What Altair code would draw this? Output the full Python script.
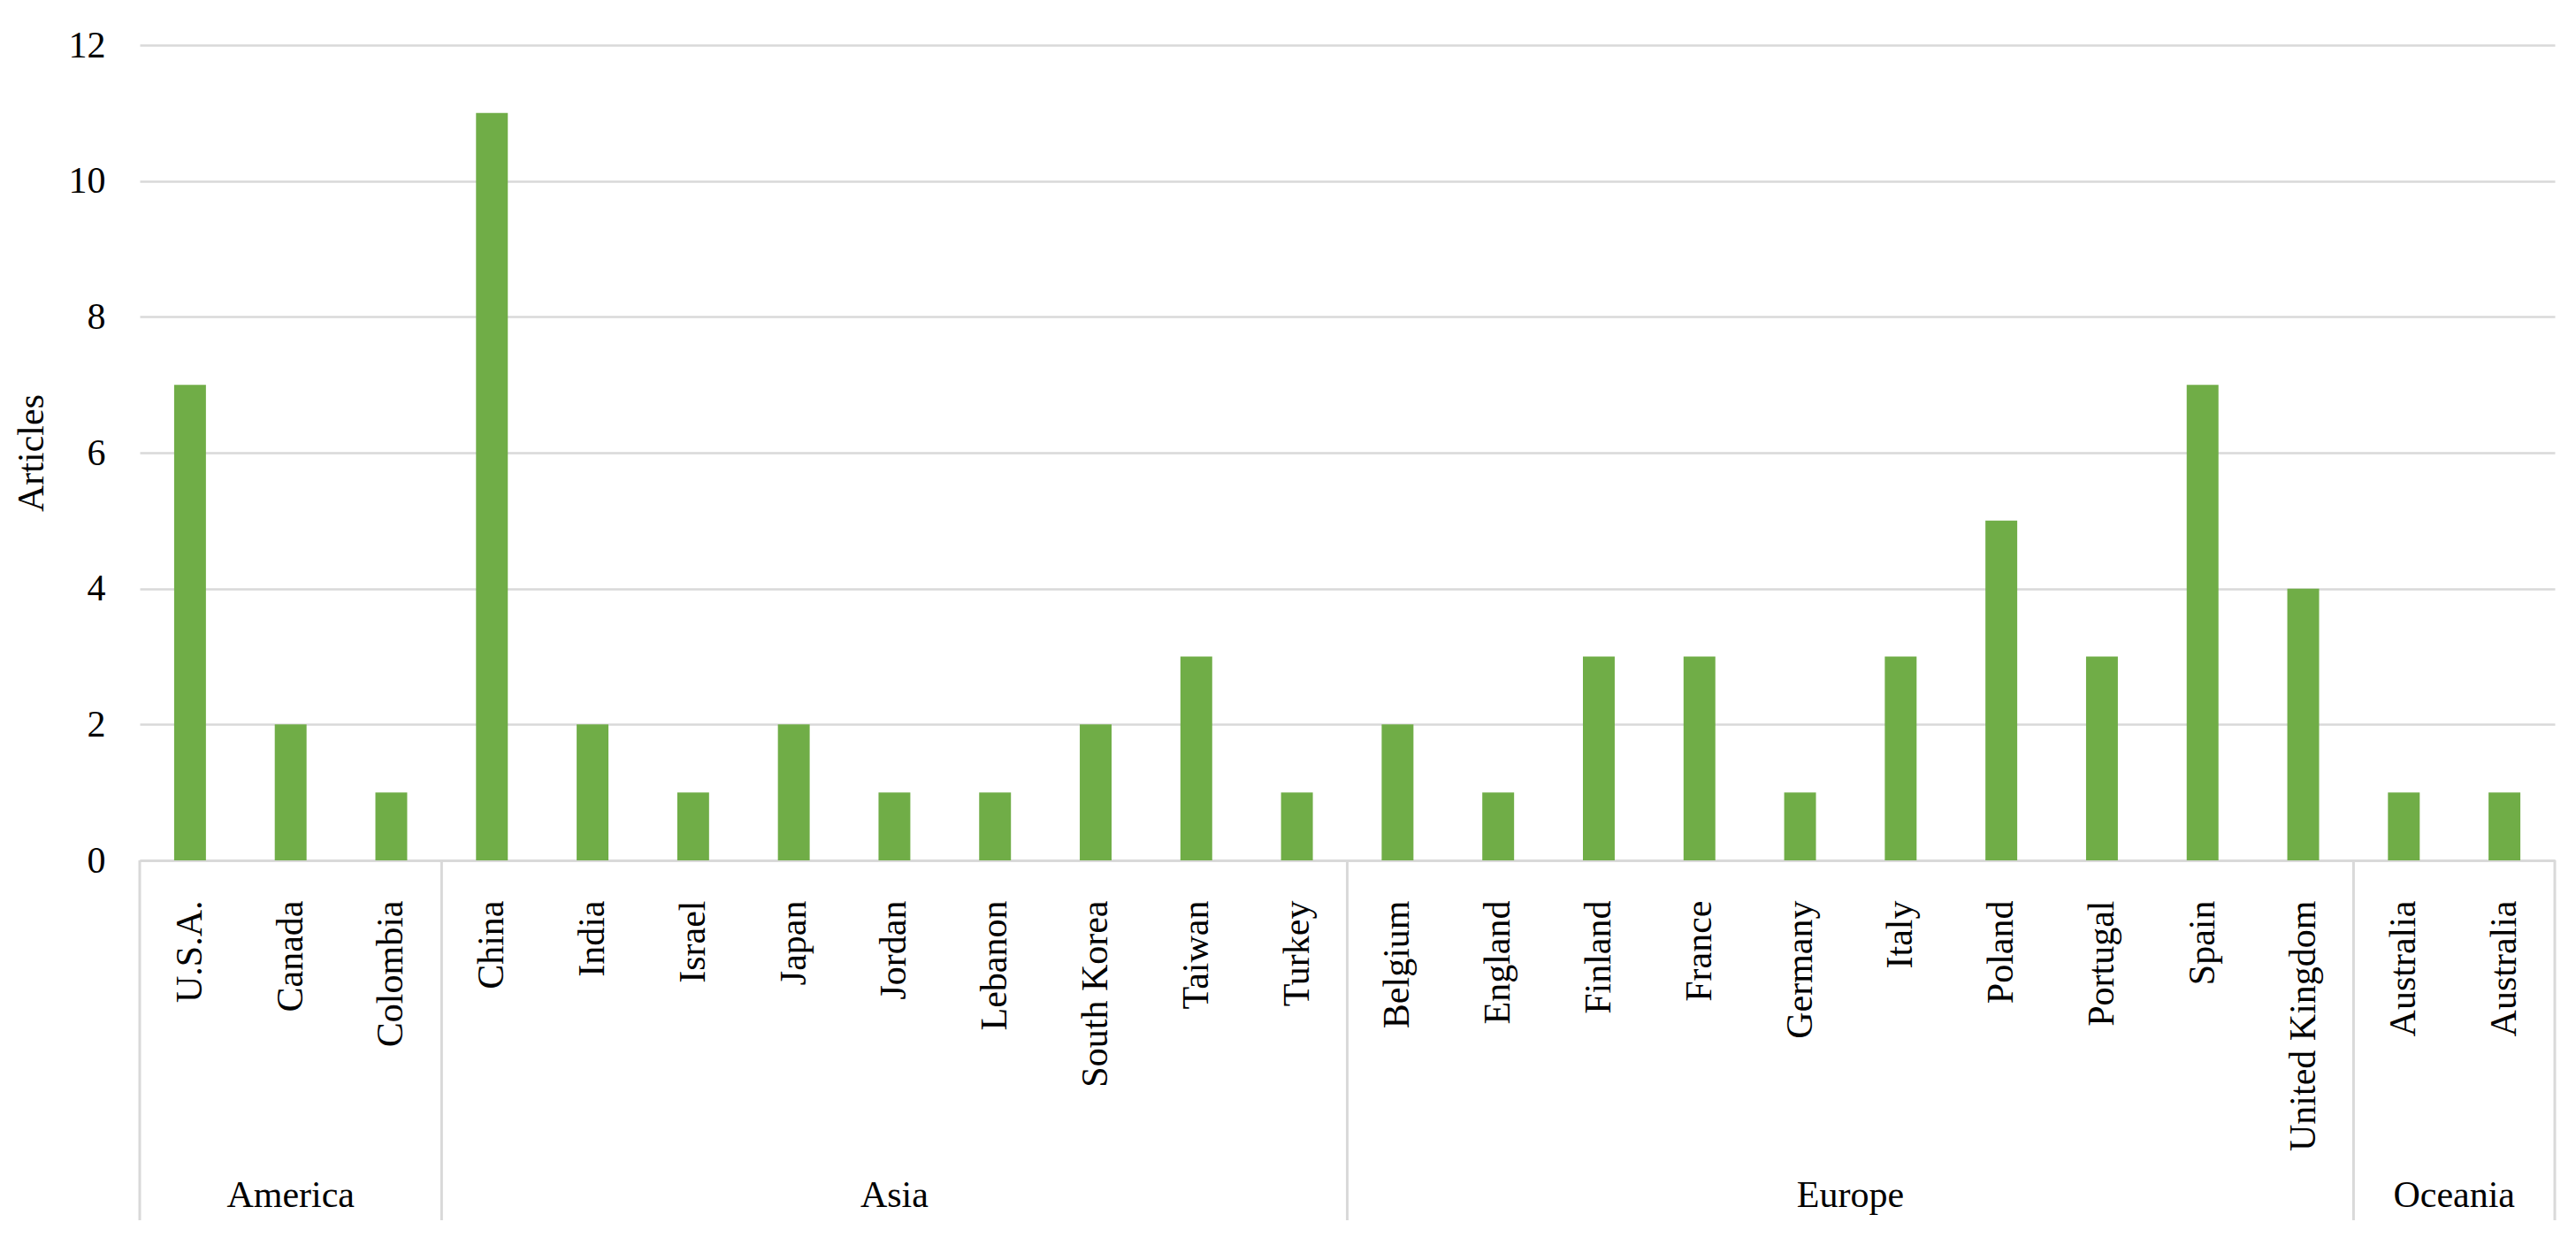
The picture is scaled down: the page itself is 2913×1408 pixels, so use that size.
import json
import altair as alt
import pandas as pd

countries = ["U.S.A.", "Canada", "Colombia", "China", "India", "Israel", "Japan",
             "Jordan", "Lebanon", "South Korea", "Taiwan", "Turkey", "Belgium",
             "England", "Finland", "France", "Germany", "Italy", "Poland",
             "Portugal", "Spain", "United Kingdom", "Australia", "Australia"]
continents = ["America", "America", "America",
              "Asia", "Asia", "Asia", "Asia", "Asia", "Asia", "Asia", "Asia", "Asia",
              "Europe", "Europe", "Europe", "Europe", "Europe", "Europe", "Europe",
              "Europe", "Europe", "Europe",
              "Oceania", "Oceania"]
articles = [7, 2, 1, 11, 2, 1, 2, 1, 1, 2, 3, 1, 2, 1, 3, 3, 1, 3, 5, 3, 7, 4, 1, 1]
y_ticks = [0, 2, 4, 6, 8, 10, 12]

FONT = "Liberation Serif"
W, H = 2731, 922
n = len(countries)

bars_df = pd.DataFrame({"idx": list(range(n)), "country": countries,
                        "continent": continents, "articles": articles})

# continent runs -> separators and centred group labels
bounds, groups = [0], []
start = 0
for i in range(1, n + 1):
    if i == n or continents[i] != continents[start]:
        groups.append({"name": continents[start], "mid": (start + i) / 2})
        bounds.append(i)
        start = i
sep_df = pd.DataFrame({"pos": bounds})
grp_df = pd.DataFrame(groups)

label_expr = json.dumps(countries) + "[datum.value]"

bars = alt.Chart(bars_df).mark_bar(color="#70AD47").encode(
    x=alt.X("idx:O",
            scale=alt.Scale(paddingInner=0.684, paddingOuter=0.342),
            axis=alt.Axis(title=None, labelExpr=label_expr, labelAngle=-90,
                          labelFont=FONT, labelFontSize=42, labelColor="#000000",
                          labelPadding=45, labelLimit=0, ticks=False,
                          domainColor="#d9d9d9", domainWidth=3, grid=False,
                          labelOverlap=False)),
    y=alt.Y("articles:Q",
            scale=alt.Scale(domain=[0, 12], nice=False),
            axis=alt.Axis(values=y_ticks, title="Articles", titleX=-123, titleY=461,
                          titleAngle=270, titleAlign="center", titleBaseline="middle",
                          titleFont=FONT, titleFontSize=42, titleFontWeight="normal",
                          titleColor="#000000", labelFont=FONT, labelFontSize=42,
                          labelColor="#000000", labelPadding=39, ticks=False,
                          domain=False, grid=True, gridColor="#d9d9d9",
                          gridWidth=2.5)),
)

xq = alt.Scale(domain=[0, n], nice=False, zero=False)

seps = alt.Chart(sep_df).mark_rule(color="#d9d9d9", strokeWidth=3).encode(
    x=alt.X("pos:Q", scale=xq, axis=None),
    y=alt.value(H),
    y2=alt.value(1329),
)

grp_text = alt.Chart(grp_df).mark_text(font=FONT, fontSize=42, baseline="middle",
                                       color="#000000").encode(
    x=alt.X("mid:Q", scale=xq, axis=None),
    y=alt.value(1301),
    text="name:N",
)

chart = alt.layer(bars, seps, grp_text).resolve_scale(x="independent").properties(
    width=W, height=H,
    autosize=alt.AutoSizeParams(type="none"),
    padding={"left": 150, "top": 43, "right": 12, "bottom": 420},
).configure_view(stroke=None)

chart.save("out.html", embed_options={"renderer": "svg", "actions": False})
